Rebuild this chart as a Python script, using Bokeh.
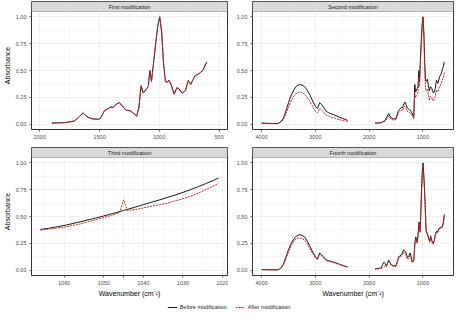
from bokeh.plotting import figure
from bokeh.layouts import column, row
from bokeh.models import (Range1d, FixedTicker, BoxAnnotation, Label,
                          PrintfTickFormatter, Legend, LegendItem)
from bokeh.embed import file_html
from bokeh.resources import INLINE

# ---------------- data ----------------
# First modification (fingerprint region)
w1 = [1900, 1850, 1800, 1750, 1710, 1670, 1640, 1605, 1565, 1510, 1490, 1460, 1430,
      1405, 1385, 1357, 1335, 1312, 1280, 1245, 1220, 1190, 1172, 1153, 1135, 1108,
      1093, 1079, 1066, 1048, 1029, 1013, 997, 981, 966, 950, 934, 921, 902, 876,
      854, 836, 810, 783, 757, 738, 704, 669, 638, 603]
before1 = [0.010, 0.012, 0.013, 0.020, 0.030, 0.070, 0.105, 0.070, 0.050, 0.045, 0.060,
           0.125, 0.145, 0.160, 0.155, 0.190, 0.200, 0.175, 0.130, 0.125, 0.105, 0.075,
           0.150, 0.360, 0.290, 0.330, 0.350, 0.500, 0.400, 0.580, 0.770, 0.920, 1.000,
           0.860, 0.580, 0.400, 0.390, 0.410, 0.370, 0.280, 0.340, 0.330, 0.290, 0.310,
           0.410, 0.370, 0.450, 0.470, 0.500, 0.580]
after1 = [0.010, 0.012, 0.013, 0.020, 0.030, 0.068, 0.103, 0.069, 0.050, 0.045, 0.060,
          0.123, 0.143, 0.158, 0.153, 0.188, 0.198, 0.173, 0.129, 0.124, 0.104, 0.074,
          0.148, 0.355, 0.287, 0.327, 0.347, 0.495, 0.397, 0.576, 0.767, 0.918, 1.000,
          0.858, 0.577, 0.398, 0.388, 0.408, 0.368, 0.279, 0.338, 0.328, 0.289, 0.309,
          0.408, 0.368, 0.448, 0.468, 0.498, 0.577]

# Second modification
w2_high = [4000, 3900, 3800, 3700, 3650, 3600, 3550, 3500, 3450, 3400, 3350, 3300, 3250,
           3200, 3150, 3100, 3050, 3000, 2960, 2920, 2880, 2850, 2800, 2750, 2700, 2650,
           2600, 2550, 2500, 2450, 2400]
before2_high = [0.010, 0.008, 0.006, 0.005, 0.020, 0.050, 0.120, 0.200, 0.270, 0.320,
                0.355, 0.370, 0.365, 0.350, 0.315, 0.270, 0.215, 0.165, 0.145, 0.200,
                0.180, 0.160, 0.120, 0.105, 0.095, 0.085, 0.075, 0.065, 0.055, 0.045, 0.035]
after2_high = [0.008, 0.006, 0.005, 0.004, 0.015, 0.040, 0.095, 0.160, 0.220, 0.260,
               0.290, 0.300, 0.295, 0.280, 0.250, 0.210, 0.165, 0.120, 0.105, 0.150,
               0.130, 0.115, 0.085, 0.075, 0.065, 0.058, 0.050, 0.042, 0.035, 0.030, 0.025]
w2_low = [1890, 1800, 1750, 1710, 1670, 1637, 1600, 1560, 1500, 1460, 1430, 1400, 1380,
          1350, 1330, 1290, 1260, 1228, 1200, 1170, 1150, 1135, 1108, 1090, 1075, 1062,
          1048, 1030, 1013, 997, 981, 966, 950, 930, 915, 900, 880, 860, 838, 815, 796,
          770, 748, 720, 690, 660, 630, 600]
before2_low = [0.010, 0.012, 0.020, 0.030, 0.065, 0.100, 0.065, 0.050, 0.050, 0.120,
               0.140, 0.155, 0.150, 0.195, 0.205, 0.150, 0.140, 0.127, 0.100, 0.065,
               0.370, 0.300, 0.330, 0.350, 0.500, 0.400, 0.580, 0.780, 0.930, 1.000,
               0.850, 0.580, 0.400, 0.400, 0.420, 0.370, 0.310, 0.350, 0.340, 0.300,
               0.290, 0.330, 0.410, 0.380, 0.440, 0.470, 0.520, 0.580]
after2_low = [0.008, 0.010, 0.015, 0.025, 0.050, 0.075, 0.050, 0.040, 0.040, 0.100,
              0.115, 0.130, 0.125, 0.160, 0.165, 0.120, 0.110, 0.100, 0.080, 0.050,
              0.290, 0.250, 0.270, 0.300, 0.440, 0.350, 0.540, 0.750, 0.920, 1.000,
              0.820, 0.520, 0.320, 0.310, 0.330, 0.290, 0.220, 0.260, 0.250, 0.220,
              0.220, 0.260, 0.320, 0.300, 0.350, 0.380, 0.420, 0.480]

# Third modification (zoom around 1045)
w3 = [1066, 1064, 1062, 1060, 1058, 1056, 1054, 1052, 1050, 1048, 1046, 1045, 1044,
      1042, 1040, 1038, 1036, 1034, 1032, 1030, 1028, 1026, 1024, 1022, 1021]
before3 = [0.380, 0.390, 0.403, 0.416, 0.433, 0.450, 0.468, 0.486, 0.505, 0.525, 0.546,
           0.556, 0.566, 0.588, 0.610, 0.632, 0.654, 0.677, 0.700, 0.725, 0.752, 0.780,
           0.810, 0.842, 0.860]
after3 = [0.373, 0.382, 0.392, 0.400, 0.415, 0.430, 0.450, 0.470, 0.490, 0.510, 0.535,
          0.655, 0.556, 0.565, 0.580, 0.595, 0.610, 0.625, 0.645, 0.665, 0.690, 0.720,
          0.755, 0.790, 0.810]

# Fourth modification
w4_high = w2_high
before4_high = [0.005, 0.004, 0.003, 0.003, 0.015, 0.050, 0.120, 0.190, 0.250, 0.290,
                0.320, 0.330, 0.325, 0.310, 0.270, 0.220, 0.170, 0.125, 0.105, 0.160,
                0.140, 0.125, 0.095, 0.087, 0.080, 0.072, 0.065, 0.055, 0.045, 0.037, 0.030]
after4_high = [0.005, 0.004, 0.003, 0.003, 0.012, 0.040, 0.100, 0.170, 0.230, 0.270,
               0.295, 0.300, 0.295, 0.280, 0.245, 0.200, 0.155, 0.115, 0.100, 0.150,
               0.132, 0.118, 0.090, 0.082, 0.075, 0.068, 0.060, 0.052, 0.043, 0.035, 0.028]
w4_low = [1890, 1820, 1780, 1750, 1725, 1700, 1678, 1660, 1637, 1610, 1589, 1540, 1500,
          1470, 1450, 1430, 1408, 1380, 1360, 1340, 1318, 1288, 1260, 1240, 1220, 1198,
          1168, 1150, 1132, 1108, 1090, 1072, 1054, 1040, 1024, 1010, 997, 982, 964, 940,
          916, 892, 870, 856, 830, 808, 790, 770, 748, 720, 700, 670, 640, 620, 600]
before4_low = [0.013, 0.015, 0.020, 0.050, 0.075, 0.060, 0.035, 0.060, 0.095, 0.070,
               0.050, 0.040, 0.040, 0.090, 0.126, 0.130, 0.140, 0.160, 0.190, 0.180,
               0.170, 0.115, 0.130, 0.160, 0.130, 0.080, 0.095, 0.250, 0.310, 0.260,
               0.330, 0.450, 0.360, 0.500, 0.760, 0.920, 1.000, 0.880, 0.700, 0.370,
               0.340, 0.300, 0.270, 0.320, 0.270, 0.250, 0.270, 0.330, 0.360, 0.360,
               0.390, 0.400, 0.400, 0.440, 0.520]
after4_low = [0.010, 0.012, 0.015, 0.020, 0.030, 0.035, 0.040, 0.060, 0.090, 0.065,
              0.045, 0.035, 0.035, 0.080, 0.110, 0.120, 0.125, 0.145, 0.170, 0.160,
              0.150, 0.100, 0.110, 0.130, 0.110, 0.070, 0.085, 0.230, 0.290, 0.250,
              0.310, 0.430, 0.350, 0.490, 0.750, 0.920, 1.000, 0.870, 0.680, 0.360,
              0.330, 0.290, 0.260, 0.310, 0.260, 0.240, 0.260, 0.320, 0.350, 0.350,
              0.380, 0.390, 0.400, 0.430, 0.510]

titles = ["First modification", "Second modification", "Third modification",
          "Fourth modification"]
x_ticks_1 = [2000, 1500, 1000, 500]
x_minor_1 = [1750, 1250, 750]
x_ticks_wide = [4000, 3000, 2000, 1000]
x_minor_wide = [3500, 2500, 1500, 500]
x_ticks_3 = [1060, 1050, 1045, 1040, 1030, 1020]
x_minor_3 = [1065, 1055, 1047.5, 1042.5, 1035, 1025]
highlight_tick = 1045
y_ticks = [0.0, 0.25, 0.5, 0.75, 1.0]
y_minor = [0.125, 0.375, 0.625, 0.875]
legend_labels = ["Before modification", "After modification"]

# ---------------- style ----------------
FONT = "Liberation Sans"
BEFORE_COLOR = "#1A1A1A"
AFTER_COLOR = "#C0282D"
BORDER = "#333333"
GRID = "#EBEBEB"
TICK_TXT = "#4D4D4D"
TICK_FS = "5.5px"

STRIP_PX = 10
FRAME_H = 128
FRAME_W = 201
Y_LO, Y_HI = -0.05, 1.05
U_PER_PX = (Y_HI - Y_LO) / (FRAME_H - STRIP_PX)
Y_TOP = Y_HI + STRIP_PX * U_PER_PX


def make_panel(title, xr, xt, xm, left, bottom, top_row):
    mbl = 26 if left else 24
    mbr = 1 if left else 4
    mbt = 1 if top_row else 4
    mbb = 14 if top_row else 24
    p = figure(width=mbl + FRAME_W + mbr, height=mbt + FRAME_H + mbb,
               x_range=Range1d(xr[0], xr[1]), y_range=Range1d(Y_LO, Y_TOP),
               output_backend="svg", toolbar_location=None,
               min_border_left=mbl, min_border_right=mbr,
               min_border_top=mbt, min_border_bottom=mbb)
    p.background_fill_color = "white"
    p.border_fill_color = "white"
    p.outline_line_color = BORDER
    p.outline_line_width = 1

    p.xaxis.ticker = FixedTicker(ticks=xt, minor_ticks=xm)
    p.yaxis.ticker = FixedTicker(ticks=y_ticks, minor_ticks=y_minor)
    p.yaxis.formatter = PrintfTickFormatter(format="%.2f")
    for ax in (p.xaxis[0], p.yaxis[0]):
        ax.axis_line_color = None
        ax.major_tick_line_color = BORDER
        ax.major_tick_line_width = 0.8
        ax.major_tick_out = 2
        ax.major_tick_in = 0
        ax.minor_tick_line_color = None
        ax.major_label_text_font = FONT
        ax.major_label_text_font_size = TICK_FS
        ax.major_label_text_color = TICK_TXT
        ax.major_label_standoff = 1
        ax.axis_label_text_font = FONT
        ax.axis_label_text_font_size = "7px"
        ax.axis_label_text_font_style = "normal"
        ax.axis_label_text_color = "black"
        ax.axis_label_standoff = 2
    if left:
        p.yaxis.axis_label = "Absorbance"
    if bottom:
        p.xaxis.axis_label = "Wavenumber (cm\u207b\u00b9)"

    for g in p.grid:
        g.grid_line_color = GRID
        g.grid_line_width = 0.8
        g.minor_grid_line_color = GRID
        g.minor_grid_line_width = 0.4

    strip = BoxAnnotation(bottom=Y_HI, fill_color="#D9D9D9", fill_alpha=1.0,
                          line_color=BORDER, line_width=1)
    p.add_layout(strip)
    p.add_layout(Label(x=(xr[0] + xr[1]) / 2, y=(Y_HI + Y_TOP) / 2, text=title,
                       text_align="center", text_baseline="middle",
                       text_font=FONT, text_font_size=TICK_FS, text_color="#1A1A1A"))
    return p


def add_series(p, w, before, after):
    p.line(w, before, line_color=BEFORE_COLOR, line_width=1)
    p.line(w, after, line_color=AFTER_COLOR, line_width=1, line_dash="2 1")


p1 = make_panel(titles[0], (2070, 430), x_ticks_1, x_minor_1, True, False, True)
add_series(p1, w1, before1, after1)

p2 = make_panel(titles[1], (4170, 430), x_ticks_wide, x_minor_wide, False, False, True)
add_series(p2, w2_high, before2_high, after2_high)
add_series(p2, w2_low, before2_low, after2_low)

p3 = make_panel(titles[2], (1068.25, 1018.75), x_ticks_3, x_minor_3, True, True, False)
add_series(p3, w3, before3, after3)
p3.xaxis.major_label_overrides = {highlight_tick: ""}
p3.add_layout(Label(x=highlight_tick, y=Y_LO - 3 * U_PER_PX, text=str(highlight_tick),
                    text_align="center", text_baseline="top", text_font=FONT,
                    text_font_size=TICK_FS, text_color=AFTER_COLOR))

p4 = make_panel(titles[3], (4170, 430), x_ticks_wide, x_minor_wide, False, True, False)
add_series(p4, w4_high, before4_high, after4_high)
add_series(p4, w4_low, before4_low, after4_low)

# legend strip: renderers carry the panel-1 series but lie outside the visible range
total_w = p1.width + p2.width
lg = figure(width=total_w, height=15, x_range=Range1d(0, 1), y_range=Range1d(0, 1),
            output_backend="svg", toolbar_location=None,
            x_axis_location=None, y_axis_location=None,
            min_border_left=0, min_border_right=0, min_border_top=0, min_border_bottom=0)
lg.grid.visible = False
lg.outline_line_color = None
r_b = lg.line(w1, before1, line_color=BEFORE_COLOR, line_width=1)
r_a = lg.line(w1, after1, line_color=AFTER_COLOR, line_width=1, line_dash="2 1")
legend = Legend(items=[LegendItem(label=legend_labels[0], renderers=[r_b]),
                       LegendItem(label=legend_labels[1], renderers=[r_a])],
                orientation="horizontal", location="center",
                label_text_font=FONT, label_text_font_size=TICK_FS,
                label_text_color="#1A1A1A", glyph_width=10, glyph_height=6,
                label_height=6, label_standoff=3, spacing=8, padding=0, margin=0,
                border_line_color=None, background_fill_alpha=0)
lg.add_layout(legend, "center")

layout = column(row(p1, p2), row(p3, p4), lg)

open("out.html", "w").write(file_html(layout, INLINE))
